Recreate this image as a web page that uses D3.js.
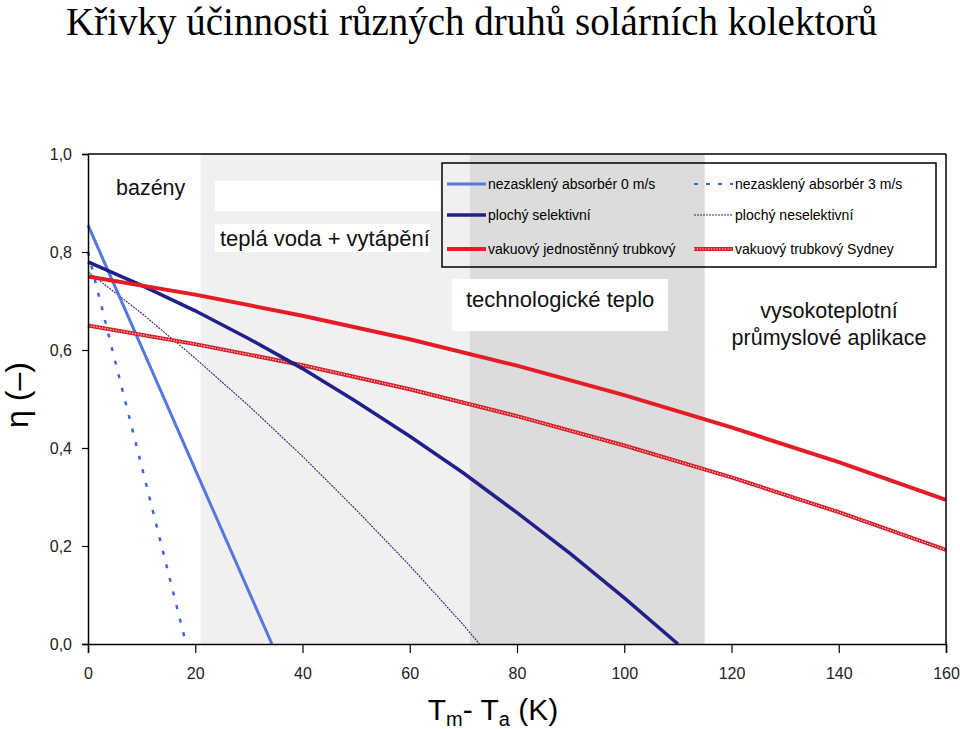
<!DOCTYPE html>
<html>
<head>
<meta charset="utf-8">
<script src="https://cdn.jsdelivr.net/npm/d3@7"></script>
<style>
  html, body { margin: 0; padding: 0; background: #fff; }
  svg { display: block; }
</style>
</head>
<body>
<svg id="chart" width="960" height="729"></svg>
<script>
// ---------------- DATA ----------------
const titleText = "Křivky účinnosti různých druhů solárních kolektorů";
const xTicks = [0, 20, 40, 60, 80, 100, 120, 140, 160];
const yTicks = [0, 0.2, 0.4, 0.6, 0.8, 1.0];

// temperature difference zones (K)
const zones = [
  { from: 21, to: 71.2, shade: "light" },
  { from: 71.2, to: 115, shade: "dark" }
];

// efficiency curves: [Tm - Ta (K), eta]
const unglazed0 = [[0, 0.855], [10, 0.606], [20, 0.356], [34.3, 0]];
const unglazed3 = [[0, 0.80], [5, 0.58], [10, 0.363], [18.3, 0]];
const flatSelective = [[0, 0.78], [10, 0.732], [20, 0.68], [30, 0.623], [40, 0.562], [50, 0.495],
  [60, 0.424], [70, 0.349], [80, 0.268], [90, 0.184], [100, 0.094], [110, 0]];
const flatNonSelective = [[0, 0.76], [10, 0.675], [20, 0.583], [30, 0.486], [40, 0.383], [50, 0.274],
  [60, 0.16], [70, 0.039], [73, 0]];
const evacuatedSingle = [[0, 0.75], [20, 0.713], [40, 0.67], [60, 0.622], [80, 0.568], [100, 0.508],
  [120, 0.442], [140, 0.371], [160, 0.294]];
const evacuatedSydney = [[0, 0.65], [20, 0.612], [40, 0.569], [60, 0.52], [80, 0.465], [100, 0.405],
  [120, 0.34], [140, 0.269], [160, 0.192]];

const legendLabels = [
  "nezasklený absorbér 0 m/s", "nezasklený absorbér 3 m/s",
  "plochý selektivní", "plochý neselektivní",
  "vakuový jednostěnný trubkový", "vakuový trubkový Sydney"
];

// ---------------- DRAW ----------------
const svg = d3.select("#chart");
const FONT = "Arial, 'Liberation Sans', sans-serif";

const x = d3.scaleLinear().domain([0, 160]).range([88, 946]);
const y = d3.scaleLinear().domain([0, 1]).range([644, 154]);

// title
svg.append("text")
  .attr("x", 66).attr("y", 35)
  .attr("font-family", "'Times New Roman', 'Liberation Serif', serif")
  .attr("font-size", 39)
  .attr("fill", "#000")
  .text(titleText);

// zone shading
svg.selectAll("rect.zone").data(zones).enter().append("rect")
  .attr("class", "zone")
  .attr("x", d => x(d.from))
  .attr("width", d => x(d.to) - x(d.from))
  .attr("y", y(1))
  .attr("height", y(0) - y(1))
  .attr("fill", d => d.shade === "light" ? "#f0f0f0" : "#dcdcdc");

// white label boxes
const boxes = [
  { x: 215, y: 181, w: 225, h: 30 },
  { x: 215, y: 224, w: 215, h: 28 },
  { x: 452, y: 279, w: 216, h: 52 }
];
svg.selectAll("rect.box").data(boxes).enter().append("rect")
  .attr("class", "box")
  .attr("x", d => d.x).attr("y", d => d.y)
  .attr("width", d => d.w).attr("height", d => d.h)
  .attr("fill", "#fff");

// zone labels
const zoneLabels = [
  { t: "bazény", x: 116, y: 195, a: "start", s: 21.5 },
  { t: "teplá voda + vytápění", x: 220, y: 246, a: "start", s: 22 },
  { t: "technologické teplo", x: 466, y: 307, a: "start", s: 22 },
  { t: "vysokoteplotní", x: 829, y: 318, a: "middle", s: 21.5 },
  { t: "průmyslové aplikace", x: 829, y: 345, a: "middle", s: 21.5 }
];
svg.selectAll("text.zl").data(zoneLabels).enter().append("text")
  .attr("class", "zl")
  .attr("x", d => d.x).attr("y", d => d.y)
  .attr("text-anchor", d => d.a)
  .attr("font-family", FONT)
  .attr("font-size", d => d.s)
  .attr("fill", "#111")
  .text(d => d.t);

// curves
const line = d3.line().x(d => x(d[0])).y(d => y(d[1]));
const g = svg.append("g");

g.append("path").datum(flatNonSelective).attr("d", line)
  .attr("fill", "none").attr("stroke", "#2a2a6a").attr("stroke-width", 1.1)
  .attr("stroke-dasharray", "2,1");

g.append("path").datum(unglazed3).attr("d", line)
  .attr("fill", "none").attr("stroke", "#3f63dd").attr("stroke-width", 2.5)
  .attr("stroke-dasharray", "4,10");

g.append("path").datum(unglazed0).attr("d", line)
  .attr("fill", "none").attr("stroke", "#5577e0").attr("stroke-width", 3);

g.append("path").datum(evacuatedSydney).attr("d", line)
  .attr("fill", "none").attr("stroke", "#d8202a").attr("stroke-width", 4);
g.append("path").datum(evacuatedSydney).attr("d", line)
  .attr("fill", "none").attr("stroke", "#fbe0e0").attr("stroke-width", 1.2)
  .attr("stroke-dasharray", "1.2,1.6");

g.append("path").datum(flatSelective).attr("d", line)
  .attr("fill", "none").attr("stroke", "#20208a").attr("stroke-width", 3.5);

g.append("path").datum(evacuatedSingle).attr("d", line)
  .attr("fill", "none").attr("stroke", "#e61c24").attr("stroke-width", 4);

// frame
svg.append("line").attr("x1", x(0)).attr("x2", x(160)).attr("y1", y(1)).attr("y2", y(1))
  .attr("stroke", "#000").attr("stroke-width", 1.5);
svg.append("line").attr("x1", x(160)).attr("x2", x(160)).attr("y1", y(1)).attr("y2", y(0))
  .attr("stroke", "#000").attr("stroke-width", 1.5);

// axes
const fmt = d => d3.format(".1f")(d).replace(".", ",");
const yAxis = svg.append("g").attr("transform", `translate(${x(0)},0)`)
  .call(d3.axisLeft(y).tickValues(yTicks).tickFormat(fmt).tickSize(6).tickPadding(10));
const xAxis = svg.append("g").attr("transform", `translate(0,${y(0)})`)
  .call(d3.axisBottom(x).tickValues(xTicks).tickFormat(d3.format("d")).tickSize(9).tickPadding(15));
[yAxis, xAxis].forEach(a => {
  a.select(".domain").attr("stroke", "#000").attr("stroke-width", 1.5);
  a.selectAll(".tick line").attr("stroke", "#000").attr("stroke-width", 1.2);
  a.selectAll(".tick text").attr("font-family", FONT).attr("font-size", 16).attr("fill", "#222");
});

// axis titles
svg.append("text")
  .attr("transform", "translate(28,395) rotate(-90)")
  .attr("text-anchor", "middle")
  .attr("font-family", FONT).attr("font-size", 32).attr("fill", "#000")
  .text("η (–)");

const xt = svg.append("text")
  .attr("x", 493).attr("y", 720)
  .attr("text-anchor", "middle")
  .attr("font-family", FONT).attr("font-size", 30).attr("fill", "#000");
xt.append("tspan").text("T");
xt.append("tspan").attr("font-size", 20).attr("dy", 6).text("m");
xt.append("tspan").attr("dy", -6).text("- T");
xt.append("tspan").attr("font-size", 20).attr("dy", 6).text("a");
xt.append("tspan").attr("dy", -6).text(" (K)");

// legend
svg.append("rect").attr("x", 442).attr("y", 163).attr("width", 494).attr("height", 104)
  .attr("fill", "none").attr("stroke", "#000").attr("stroke-width", 1.5);

const legendStyles = [
  { c: "#5577e0", w: 3, dash: null },
  { c: "#3f63dd", w: 2, dash: "4,8" },
  { c: "#20208a", w: 3.5, dash: null },
  { c: "#2a2a6a", w: 1.1, dash: "2,1" },
  { c: "#e61c24", w: 4, dash: null },
  { c: "#d8202a", w: 4, dash: null, sydney: true }
];
const legendItems = legendLabels.map((t, i) => ({ t, s: legendStyles[i], col: i % 2, row: Math.floor(i / 2) }));
const rowsY = [184, 215, 249];
const lg = svg.selectAll("g.leg").data(legendItems).enter().append("g").attr("class", "leg")
  .attr("transform", d => `translate(${d.col === 0 ? 447 : 694},${rowsY[d.row]})`);
lg.append("line").attr("x1", 0).attr("x2", 39).attr("y1", 0).attr("y2", 0)
  .attr("stroke", d => d.s.c).attr("stroke-width", d => d.s.w)
  .attr("stroke-dasharray", d => d.s.dash);
lg.filter(d => d.s.sydney).append("line").attr("x1", 0).attr("x2", 39).attr("y1", 0).attr("y2", 0)
  .attr("stroke", "#fbe0e0").attr("stroke-width", 1.2).attr("stroke-dasharray", "1.2,1.6");
lg.append("text").attr("x", 41).attr("y", 5)
  .attr("font-family", FONT).attr("font-size", 14).attr("fill", "#000")
  .text(d => d.t);
</script>
</body>
</html>
